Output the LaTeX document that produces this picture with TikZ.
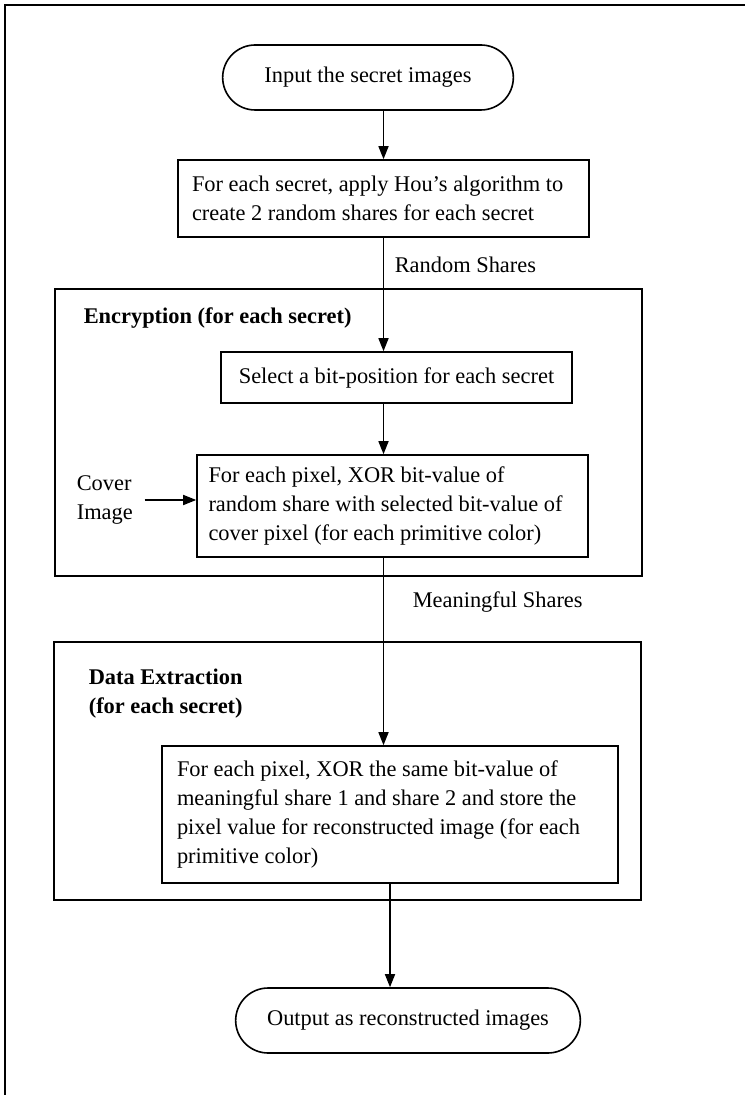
\documentclass[tikz,border=0pt]{standalone}
\usepackage{fontspec}
\setmainfont{Liberation Serif}
\usetikzlibrary{shapes.misc,arrows.meta}
\begin{document}
\begin{tikzpicture}[x=0.5pt, y=-0.5pt, line width=0.8pt,
    font=\fontsize{11.2}{14.5}\selectfont,
    caja/.style={draw, rectangle, align=flush left, inner xsep=7pt},
    terminal/.style={draw, rounded rectangle, minimum height=32.5pt},
    marco/.style={draw, rectangle, inner sep=0pt},
    rotulo/.style={inner sep=0pt, anchor=west, align=left},
    flecha/.style={-{Triangle[length=6.5pt,width=5pt]}}]
  \useasboundingbox (0,0) rectangle (745,1095);
  % el marco de fuera, solo arriba y a la izquierda
  \draw (5,1095) -- (5,5) -- (745,5);
  % los dos marcos grandes, con sus titulos
  \node[marco, minimum width=293.5pt, minimum height=143.5pt] (cifrado) at (348.5,432.5) {};
  \node[marco, minimum width=293.5pt, minimum height=129pt] (extraccion) at (347.5,771) {};
  \node[rotulo, font=\fontsize{11.2}{14.5}\selectfont\bfseries] (titcifrado) at (83,318)
    {Encryption (for each secret)};
  \node[rotulo, font=\fontsize{11.2}{14.5}\selectfont\bfseries] (titextraccion) at (88,694)
    {Data Extraction\\(for each secret)};
  % las cajas del flujo
  \node[terminal, minimum width=152pt] (entrada) at (368,77.5) {Input the secret images};
  \node[caja, text width=191.5pt, minimum height=38.5pt] (hou) at (383.5,198.5)
    {For each secret, apply Hou's algorithm to\\create 2 random shares for each secret};
  \node[caja, align=center, minimum width=175.5pt, minimum height=25.5pt] (bit) at (396.5,377.5)
    {Select a bit-position for each secret};
  \node[caja, text width=184pt, inner xsep=5.75pt, minimum height=51pt] (xor) at (392.5,506)
    {For each pixel, XOR bit-value of\\random share with selected bit-value of\\cover pixel (for each primitive color)};
  \node[caja, text width=213pt, inner xsep=7.5pt, minimum height=68.5pt] (mezcla) at (390,814.5)
    {For each pixel, XOR the same bit-value of\\meaningful share 1 and share 2 and store the\\pixel value for reconstructed image (for each\\primitive color)};
  \node[terminal, minimum width=179pt] (salida) at (408,1020.5) {Output as reconstructed images};
  % rotulos sueltos
  \node[rotulo] (aleatorias) at (394,265) {Random Shares};
  \node[rotulo] (significativas) at (412,602) {Meaningful Shares};
  \node[rotulo] (cubierta) at (76,500) {Cover\\Image};
  % las flechas
  \draw[flecha] (hou.north |- entrada.south) -- (hou.north);
  \draw[flecha] (hou.south) -- (hou.south |- bit.north);
  \draw[flecha] (hou.south |- bit.south) -- (hou.south |- xor.north);
  \draw[flecha] (hou.south |- xor.south) -- (hou.south |- mezcla.north);
  \draw[flecha] (mezcla.south) -- (mezcla.south |- salida.north);
  \draw[flecha] ([xshift=5.5pt]cubierta.east) -- (cubierta.east -| xor.west);
\end{tikzpicture}
\end{document}
